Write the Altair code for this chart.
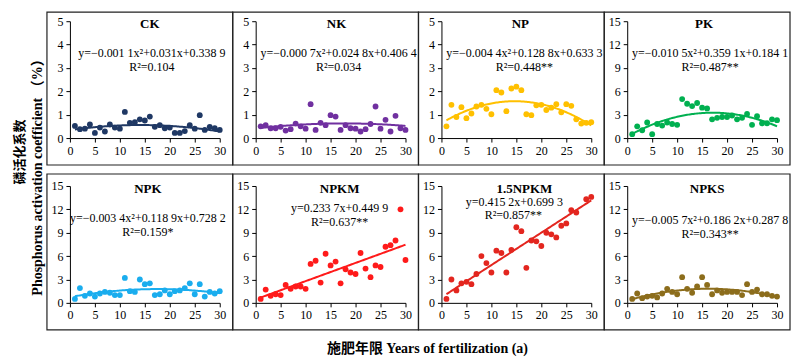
import altair as alt
import pandas as pd

years = list(range(1, 31))
panels = ["CK", "NK", "NP", "PK", "NPK", "NPKM", "1.5NPKM", "NPKS"]

ck = [0.52, 0.38, 0.40, 0.58, 0.22, 0.45, 0.28, 0.58, 0.45, 0.40,
      1.12, 0.65, 0.68, 0.80, 0.75, 0.92, 0.48, 0.55, 0.42, 0.45,
      0.22, 0.22, 0.30, 0.55, 0.40, 0.98, 0.35, 0.48, 0.42, 0.35]
nk = [0.50, 0.55, 0.42, 0.42, 0.48, 0.32, 0.38, 0.62, 0.50, 0.40,
      1.45, 0.35, 0.65, 0.55, 0.98, 0.92, 0.35, 0.55, 0.42, 0.40,
      0.28, 0.38, 0.60, 1.35, 0.40, 0.78, 0.28, 0.95, 0.42, 0.35]
np_ = [0.50, 1.42, 0.90, 1.32, 0.85, 1.05, 1.35, 1.42, 1.25, 1.02,
       2.05, 1.95, 1.15, 2.12, 2.20, 2.05, 1.02, 0.98, 1.40, 1.42,
       1.20, 1.30, 1.45, 1.10, 1.45, 1.38, 0.80, 0.62, 0.65, 0.68]
pk = [0.5, 1.5, 1.0, 2.0, 0.5, 1.8, 1.6, 2.0, 1.8, 1.7,
      5.0, 4.4, 4.1, 4.5, 3.9, 3.8, 2.4, 2.6, 2.7, 2.7,
      2.9, 2.4, 2.6, 3.1, 1.7, 2.8, 1.9, 1.9, 2.4, 2.3]
npk = [0.5, 1.9, 0.9, 1.2, 0.8, 1.2, 1.4, 1.3, 1.0, 1.0,
       3.2, 1.5, 1.4, 3.0, 2.4, 2.5, 1.0, 1.1, 1.6, 1.1,
       1.5, 1.6, 1.9, 2.5, 1.1, 2.4, 0.8, 1.4, 1.2, 1.5]
npkm = [0.5, 1.7, 0.9, 1.1, 1.0, 2.3, 1.8, 2.1, 2.1, 1.8,
        5.0, 5.4, 2.6, 6.3, 4.8, 5.3, 2.5, 4.3, 3.9, 3.7,
        6.4, 4.4, 3.3, 4.8, 4.6, 7.2, 7.4, 8.0, 12.0, 5.5]
npkm15 = [0.5, 3.0, 1.6, 2.5, 2.7, 2.4, 3.7, 6.0, 5.1, 3.9,
          6.7, 6.4, 3.9, 6.8, 9.7, 9.2, 4.5, 8.0, 7.9, 7.3,
          9.0, 8.8, 8.4, 9.9, 10.2, 11.9, 11.6, None, 13.3, 13.6]
npks = [0.5, 1.2, 0.6, 0.8, 0.9, 0.7, 1.2, 1.8, 1.4, 1.1,
        3.3, 1.8, 1.3, 2.1, 3.3, 2.3, 1.1, 1.6, 1.3, 1.4,
        1.4, 1.4, 1.0, 2.4, 1.4, 1.7, 1.1, 1.1, 0.9, 0.8]
series = [ck, nk, np_, pk, npk, npkm, npkm15, npks]

y_max = [5, 5, 5, 15, 15, 15, 15, 15]
ticks5 = [0, 1, 2, 3, 4, 5]
ticks15 = [0, 3, 6, 9, 12, 15]
x_ticks = [0, 5, 10, 15, 20, 25, 30]

coef_a = [-0.0011, -0.0007, -0.0044, -0.0105, -0.0034, 0.0, 0.0, -0.0057]
coef_b = [0.031, 0.0248, 0.1288, 0.3591, 0.1189, 0.2337, 0.4152, 0.1862]
coef_c = [0.3389, 0.4064, 0.6333, 0.1841, 0.7282, 0.4499, 0.6993, 0.2878]

eq_labels = [
    "y=\u22120.001 1x\u00b2+0.031x+0.338 9",
    "y=\u22120.000 7x\u00b2+0.024 8x+0.406 4",
    "y=\u22120.004 4x\u00b2+0.128 8x+0.633 3",
    "y=\u22120.010 5x\u00b2+0.359 1x+0.184 1",
    "y=\u22120.003 4x\u00b2+0.118 9x+0.728 2",
    "y=0.233 7x+0.449 9",
    "y=0.415 2x+0.699 3",
    "y=\u22120.005 7x\u00b2+0.186 2x+0.287 8",
]
r2_labels = ["R\u00b2=0.104", "R\u00b2=0.034", "R\u00b2=0.448**", "R\u00b2=0.487**",
             "R\u00b2=0.159*", "R\u00b2=0.637**", "R\u00b2=0.857**", "R\u00b2=0.343**"]

colors = ["#1F3864", "#7030A0", "#FFC000", "#00B050",
          "#1AADEE", "#FF1A1A", "#E3261F", "#8C6D1C"]

# layout (pixels relative to each plot area): title_x, eq_x, eq_y, r2_x, r2_y
layout = [
    (80, 82, 32, 82, 46),
    (81, 83, 32, 83, 46),
    (79, 83, 32, 83, 46),
    (77, 83, 32, 83, 46),
    (78, 78, 32, 78, 46),
    (84, 84, 22, 84, 36),
    (83, 73, 16, 72, 29),
    (80, 83, 34, 83, 48),
]

W, H = 150, 117
SERIF = "Liberation Serif"
one = pd.DataFrame({"d": [0]})


def panel(i, top_row):
    df = pd.DataFrame({"x": years, "y": series[i]}).dropna()
    yt = ticks5 if y_max[i] == 5 else ticks15
    xenc = alt.X("x:Q", scale=alt.Scale(domain=[0, 30], nice=False),
                 axis=alt.Axis(values=x_ticks, title=None))
    yenc = alt.Y("y:Q", scale=alt.Scale(domain=[0, y_max[i]], nice=False),
                 axis=alt.Axis(values=yt, title=None))
    box = alt.Chart(one).mark_rect(fillOpacity=0, stroke="#222222", strokeWidth=1.2).encode(
        x=alt.value(-23), x2=alt.value(W + 13),
        y=alt.value(-9 if top_row else -12), y2=alt.value(H + 27))
    pts = alt.Chart(df).mark_circle(size=34, opacity=1, color=colors[i]).encode(x=xenc, y=yenc)
    a, b, c = coef_a[i], coef_b[i], coef_c[i]
    fit = alt.Chart(alt.sequence(1, 30.001, 0.25, as_="x")).transform_calculate(
        y=f"{a}*datum.x*datum.x+{b}*datum.x+{c}"
    ).mark_line(color=colors[i], strokeWidth=2).encode(x=xenc, y=yenc)
    tx, ex, ey, rx, ry = layout[i]
    title = alt.Chart(one).mark_text(text=panels[i], font=SERIF, fontSize=13,
                                     fontWeight="bold", color="black").encode(
        x=alt.value(tx), y=alt.value(3))
    eq = alt.Chart(one).mark_text(text=eq_labels[i], font=SERIF, fontSize=12,
                                  color="black").encode(x=alt.value(ex), y=alt.value(ey))
    r2 = alt.Chart(one).mark_text(text=r2_labels[i], font=SERIF, fontSize=12,
                                  color="black").encode(x=alt.value(rx), y=alt.value(ry))
    layers = [box, pts, fit, title, eq, r2]
    if i == 0:
        layers.append(alt.Chart(one).mark_text(
            text="磷活化系数", font="Noto Sans CJK SC", fontSize=13, fontWeight="bold",
            angle=270, color="black").encode(x=alt.value(-50), y=alt.value(131)))
        layers.append(alt.Chart(one).mark_text(
            text="Phosphorus activation coefficient （%）", font=SERIF + ", Noto Sans CJK SC",
            fontSize=14, fontWeight="bold", angle=270, color="black").encode(
            x=alt.value(-32), y=alt.value(153)))
    if i == 5:
        layers.append(alt.Chart(one).mark_text(
            text="施肥年限  Years of fertilization (a)", font=SERIF + ", Noto Sans CJK SC",
            fontSize=14, fontWeight="bold", color="black").encode(
            x=alt.value(172), y=alt.value(163)))
    return alt.layer(*layers).properties(width=W, height=H)


charts = [panel(i, i < 4) for i in range(8)]
chart = alt.concat(*charts, columns=4, spacing={"row": 48, "column": 36},
                   bounds="flush").properties(
    padding={"left": 5, "top": 2, "right": 0, "bottom": 0}
).configure_view(stroke="transparent").configure_axis(
    grid=False, domainColor="black", tickColor="black", domainWidth=1,
    tickSize=4, labelFont=SERIF, labelFontSize=12, labelColor="black",
    labelPadding=3, labelOverlap=False, labelFlush=False
)

chart.save("out.html", embed_options={"renderer": "svg", "actions": False})
